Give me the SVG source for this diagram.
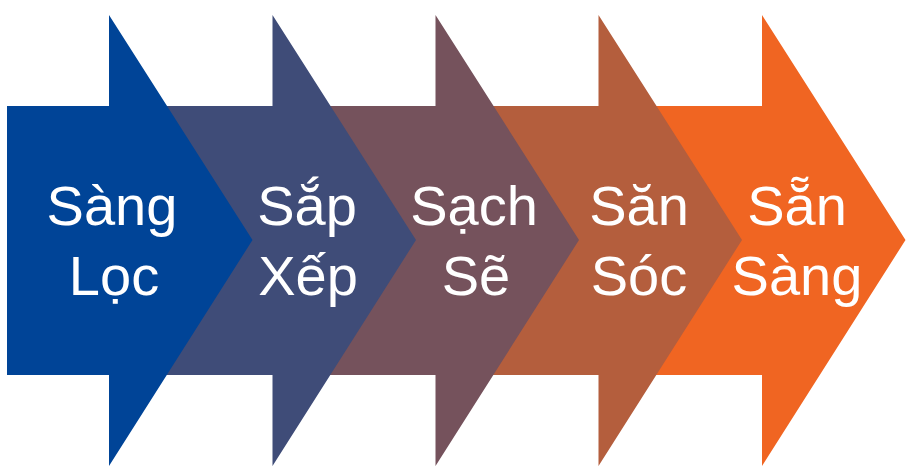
<svg xmlns="http://www.w3.org/2000/svg" width="910" height="472" viewBox="0 0 910 472">
<style>
text{font-family:"Liberation Sans",Arial,sans-serif;font-size:56px;fill:#ffffff;text-anchor:middle}
</style>
<rect width="910" height="472" fill="#ffffff"/>
<g id="connectors"/>
<g id="step5">
<polygon points="598.5,106 762,106 762,15 905.5,240 762,466 762,375 598.5,375" fill="#F06522"/>
<text x="797" y="225">Sẵn</text>
<text x="797" y="295">Sàng</text>
</g>
<g id="step4">
<polygon points="435.5,106 598.5,106 598.5,15 742,240 598.5,466 598.5,375 435.5,375" fill="#B45E3D"/>
<text x="639" y="225">Săn</text>
<text x="639" y="295">Sóc</text>
</g>
<g id="step3">
<polygon points="272.5,106 435.5,106 435.5,15 579,240 435.5,466 435.5,375 272.5,375" fill="#75525C"/>
<text x="474" y="225">Sạch</text>
<text x="476" y="295">Sẽ</text>
</g>
<g id="step2">
<polygon points="109,106 272.5,106 272.5,15 416,240 272.5,466 272.5,375 109,375" fill="#3F4C78"/>
<text x="307" y="225">Sắp</text>
<text x="308" y="295">Xếp</text>
</g>
<g id="step1">
<polygon points="7,106 109,106 109,15 252.5,240 109,466 109,375 7,375" fill="#004497"/>
<text x="112" y="225">Sàng</text>
<text x="114" y="295">Lọc</text>
</g>
</svg>
